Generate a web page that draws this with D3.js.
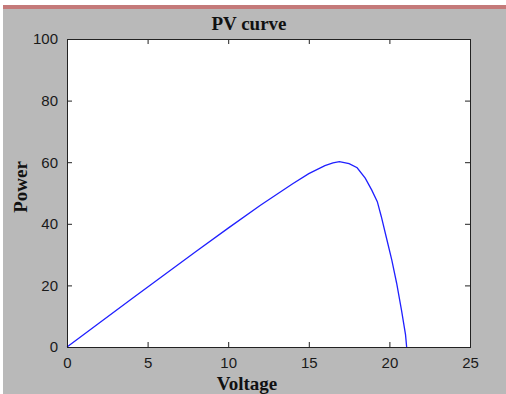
<!DOCTYPE html>
<html>
<head>
<meta charset="utf-8"/>
<title>PV curve</title>
<script src="https://cdn.jsdelivr.net/npm/d3@7/dist/d3.min.js"></script>
<style>
  html, body { margin:0; padding:0; background:#fff; overflow:hidden; }
  svg { display:block; }
  .tick text { font-family:"Liberation Sans", Arial, sans-serif; font-size:15px; fill:#1a1a1a; }
  .lbl { font-family:"Liberation Serif", "Times New Roman", serif; font-weight:bold; font-size:19px; fill:#111; }
</style>
</head>
<body>
<svg width="506" height="394"></svg>
<script>
// PV curve values
const voltage = [0, 2, 4, 6, 8, 10, 12, 13, 14, 15, 16, 16.5, 16.9, 17.5, 18.0, 18.5, 18.9, 19.25, 19.5, 19.8, 20.15, 20.45, 20.75, 21.0, 21.07];
const power   = [0, 7.8, 15.6, 23.3, 31.0, 38.6, 46.0, 49.5, 53.0, 56.3, 58.9, 59.8, 60.2, 59.5, 58.2, 54.8, 51.0, 47.2, 42.3, 35.8, 28.2, 20.7, 12.0, 4.0, 0];
const xTicks = [0, 5, 10, 15, 20, 25];
const yTicks = [0, 20, 40, 60, 80, 100];

const svg = d3.select("svg");
const W = 506, H = 394;

// window frame: white border, pink strip, gray figure
svg.append("rect").attr("x",0).attr("y",0).attr("width",W).attr("height",H).attr("fill","#fff");
svg.append("rect").attr("x",3).attr("y",5).attr("width",W-3).attr("height",H-5).attr("fill","#b9b9b9");
svg.append("rect").attr("x",3).attr("y",5).attr("width",W-3).attr("height",4).attr("fill","#c47a7a");

const m = {l:67, t:39, r:470, b:347};
const x = d3.scaleLinear().domain([0,25]).range([m.l, m.r]);
const y = d3.scaleLinear().domain([0,100]).range([m.b, m.t]);

svg.append("rect")
  .attr("x",m.l).attr("y",m.t).attr("width",m.r-m.l).attr("height",m.b-m.t)
  .attr("fill","#fff");

const line = d3.line().x((d,i)=>x(voltage[i])).y(d=>y(d));
svg.append("path")
  .datum(power)
  .attr("d", line)
  .attr("fill","none")
  .attr("stroke","#2020ff")
  .attr("stroke-width",1.3);

// axes with inward ticks on all four sides (MATLAB box)
function styleAxis(g) {
  g.select(".domain").remove();
  g.selectAll(".tick line").attr("stroke","#222");
}
svg.append("g").attr("transform",`translate(0,${m.b})`)
  .call(d3.axisBottom(x).tickValues(xTicks).tickSizeInner(-5).tickSizeOuter(0).tickPadding(10))
  .call(styleAxis);
svg.append("g").attr("transform",`translate(0,${m.t})`)
  .call(d3.axisTop(x).tickValues(xTicks).tickSizeInner(-5).tickSizeOuter(0).tickFormat(""))
  .call(styleAxis);
svg.append("g").attr("transform",`translate(${m.l},0)`)
  .call(d3.axisLeft(y).tickValues(yTicks).tickSizeInner(-5).tickSizeOuter(0).tickPadding(9))
  .call(styleAxis);
svg.append("g").attr("transform",`translate(${m.r},0)`)
  .call(d3.axisRight(y).tickValues(yTicks).tickSizeInner(-5).tickSizeOuter(0).tickFormat(""))
  .call(styleAxis);

svg.append("rect")
  .attr("x",m.l+0.5).attr("y",m.t+0.5).attr("width",m.r-m.l).attr("height",m.b-m.t)
  .attr("fill","none").attr("stroke","#222").attr("stroke-width",1);

svg.append("text").attr("class","lbl")
  .attr("x",249).attr("y",30).attr("text-anchor","middle").text("PV curve");
svg.append("text").attr("class","lbl")
  .attr("x",247).attr("y",390).attr("text-anchor","middle").text("Voltage");
svg.append("text").attr("class","lbl")
  .attr("transform","translate(27,187) rotate(-90)")
  .attr("text-anchor","middle").text("Power");
</script>
</body>
</html>
